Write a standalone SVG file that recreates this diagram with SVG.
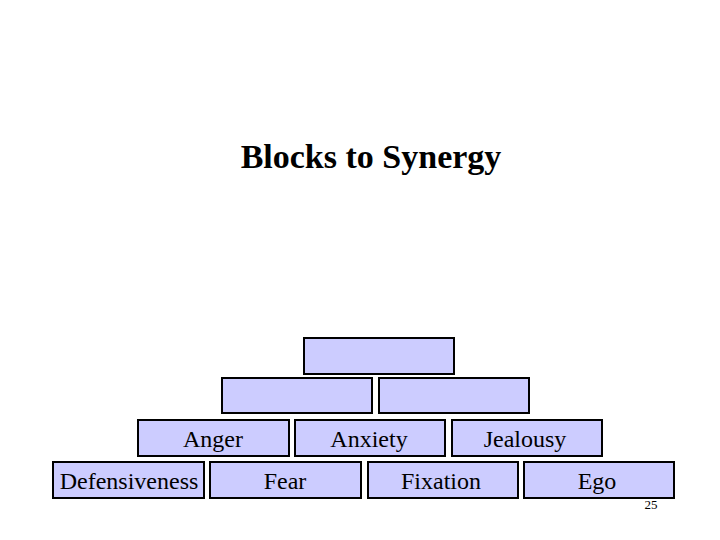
<svg xmlns="http://www.w3.org/2000/svg" width="720" height="540" viewBox="0 0 720 540">
<style>
rect{fill:#ccccff;stroke:#000;stroke-width:2}
text{font-family:"Liberation Serif",serif;font-size:24px;text-anchor:middle}
</style>
<rect x="0" y="0" width="720" height="540" style="fill:#fff;stroke:none"/>
<text x="371" y="168" style="font-size:34px;font-weight:bold">Blocks to Synergy</text>
<g id="connectors"/>
<g id="t1"><rect x="304" y="338" width="150" height="36"/></g>
<g id="r2a"><rect x="222" y="378" width="150" height="35"/></g>
<g id="r2b"><rect x="379" y="378" width="150" height="35"/></g>
<g id="anger"><rect x="138" y="420" width="151" height="36"/><text x="213" y="447">Anger</text></g>
<g id="anxiety"><rect x="295" y="420" width="150" height="36"/><text x="369" y="447">Anxiety</text></g>
<g id="jealousy"><rect x="452" y="420" width="150" height="36"/><text x="525" y="447">Jealousy</text></g>
<g id="defensiveness"><rect x="53" y="462" width="151" height="36"/><text x="129" y="489">Defensiveness</text></g>
<g id="fear"><rect x="210" y="462" width="151" height="36"/><text x="285" y="489">Fear</text></g>
<g id="fixation"><rect x="368" y="462" width="150" height="36"/><text x="441" y="489">Fixation</text></g>
<g id="ego"><rect x="524" y="462" width="150" height="36"/><text x="597" y="489">Ego</text></g>
<text x="651" y="509" style="font-size:13px">25</text>
</svg>
